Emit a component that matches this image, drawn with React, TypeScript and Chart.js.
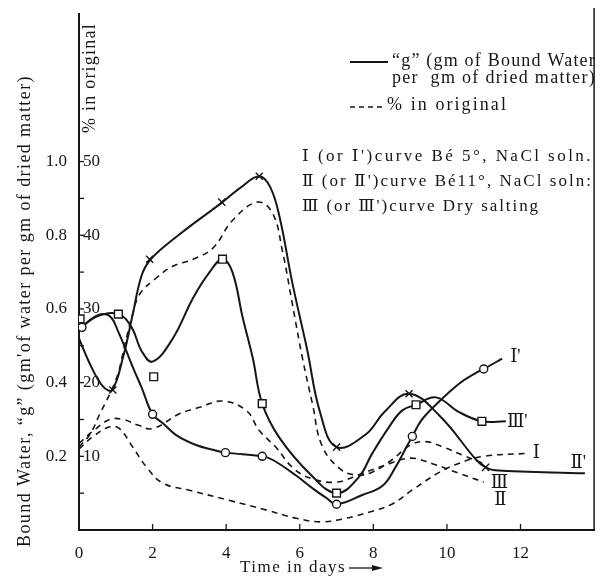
import React, { useEffect, useRef } from "react";
import { Chart, registerables } from "chart.js";

Chart.register(...registerables);

// ---- Solid curves ("g", gm bound water per gm dried matter) ----
// I' (circles)
const curveIpDays = [0.08, 0.38, 0.65, 0.88, 1.06, 1.25, 1.47, 1.7, 2.0, 2.28, 2.65, 3.2, 3.64, 3.98, 4.98, 5.27, 5.9, 6.35, 6.72, 7.0, 7.7, 8.25, 8.6, 8.9, 9.06, 9.3, 9.7, 10.33, 10.8, 11.0, 11.5];
const curveIpValues = [0.55, 0.576, 0.586, 0.576, 0.54, 0.495, 0.44, 0.387, 0.314, 0.29, 0.257, 0.23, 0.218, 0.21, 0.2, 0.19, 0.148, 0.113, 0.087, 0.07, 0.095, 0.12, 0.17, 0.225, 0.254, 0.297, 0.34, 0.397, 0.427, 0.437, 0.465];
const markIpDays = [0.08, 2.0, 3.98, 4.98, 7.0, 9.06, 11.0];
const markIpValues = [0.55, 0.314, 0.21, 0.2, 0.07, 0.254, 0.437];

// II' (crosses)
const curveIIpDays = [0, 0.3, 0.65, 0.9, 1.2, 1.45, 1.7, 1.95, 2.7, 3.9, 4.4, 4.9, 5.2, 5.45, 5.8, 6.2, 6.55, 7.0, 7.8, 8.3, 8.97, 9.8, 10.8, 11.05, 11.3, 13.75];
const curveIIpValues = [0.52, 0.45, 0.39, 0.38, 0.47, 0.58, 0.69, 0.735, 0.8, 0.89, 0.93, 0.96, 0.93, 0.85, 0.67, 0.49, 0.32, 0.225, 0.26, 0.32, 0.37, 0.31, 0.19, 0.17, 0.162, 0.154];
const markIIpDays = [0.92, 1.92, 3.88, 4.9, 7.0, 8.97, 11.05];
const markIIpValues = [0.38, 0.735, 0.89, 0.96, 0.225, 0.37, 0.17];

// III' (squares)
const curveIIIpDays = [0.05, 0.5, 1.07, 1.43, 1.7, 2.0, 2.55, 3.1, 3.55, 3.9, 4.17, 4.45, 4.72, 4.98, 5.45, 6.3, 7.0, 7.6, 7.97, 8.43, 8.78, 9.16, 9.7, 10.33, 10.95, 11.6];
const curveIIIpValues = [0.55, 0.58, 0.586, 0.55, 0.486, 0.457, 0.52, 0.63, 0.7, 0.735, 0.7, 0.576, 0.468, 0.343, 0.25, 0.15, 0.1, 0.143, 0.208, 0.28, 0.324, 0.34, 0.36, 0.32, 0.295, 0.295];
const markIIIpDays = [0.03, 1.07, 2.03, 3.9, 4.98, 7.0, 9.16, 10.95];
const markIIIpValues = [0.573, 0.586, 0.416, 0.735, 0.343, 0.1, 0.34, 0.295];

// ---- Dashed curves (% in original) ----
const curveIDays = [0, 0.4, 0.84, 1.1, 1.46, 1.84, 2.28, 3.0, 4.1, 5.1, 5.9, 6.6, 7.26, 7.9, 8.5, 9.05, 9.8, 10.3, 11.0, 12.2];
const curveIValues = [0.22, 0.255, 0.28, 0.275, 0.225, 0.17, 0.127, 0.108, 0.08, 0.054, 0.032, 0.022, 0.032, 0.049, 0.07, 0.108, 0.157, 0.18, 0.2, 0.208];

const curveIIDays = [0, 0.4, 0.84, 1.2, 1.6, 2.0, 2.74, 3.28, 3.9, 4.55, 4.9, 5.36, 5.8, 6.3, 7.0, 7.6, 8.3, 9.0, 9.6, 10.3, 11.0];
const curveIIValues = [0.235, 0.27, 0.3, 0.3, 0.285, 0.275, 0.316, 0.333, 0.35, 0.324, 0.27, 0.224, 0.17, 0.14, 0.13, 0.15, 0.175, 0.195, 0.18, 0.155, 0.13];

const curveIIIDays = [0, 0.3, 0.57, 0.84, 1.06, 1.25, 1.43, 1.65, 2.1, 2.55, 3.1, 3.64, 4.17, 4.85, 5.26, 5.53, 5.8, 6.07, 6.35, 6.6, 7.07, 7.53, 7.97, 8.5, 9.0, 9.4, 9.9, 10.5, 11.0];
const curveIIIValues = [0.225, 0.26, 0.316, 0.37, 0.424, 0.505, 0.576, 0.64, 0.684, 0.716, 0.735, 0.765, 0.84, 0.89, 0.86, 0.757, 0.613, 0.468, 0.34, 0.23, 0.168, 0.149, 0.157, 0.19, 0.23, 0.24, 0.225, 0.2, 0.18];

// ---- Axes ----
const yTickLabels = [0.2, 0.4, 0.6, 0.8, 1.0];
const pctTickLabels = [10, 20, 30, 40, 50];
const xTickLabels = [0, 2, 4, 6, 8, 10, 12];

// ---- Curve end labels (text, day, value) ----
const curveLabelTexts = ["Ⅰ'", "Ⅲ'", "Ⅰ", "Ⅱ'", "Ⅲ", "Ⅱ"];
const curveLabelDays = [11.86, 11.91, 12.43, 13.57, 11.43, 11.45];
const curveLabelValues = [0.468, 0.292, 0.208, 0.181, 0.127, 0.081];

const INK = "#161616";
const FONT = '"Liberation Serif", "DejaVu Serif", serif';

const pts = (xs: number[], ys: number[]) => xs.map((x, i) => ({ x, y: ys[i] }));

function fitText(ctx: CanvasRenderingContext2D, text: string, x: number, y: number, width: number, size: number) {
  ctx.font = `${size}px ${FONT}`;
  (ctx as any).letterSpacing = "0px";
  const w = ctx.measureText(text).width;
  const n = Array.from(text).length;
  const sp = n > 0 ? (width - w) / n : 0;
  (ctx as any).letterSpacing = `${sp}px`;
  ctx.textAlign = "left";
  ctx.textBaseline = "middle";
  ctx.fillText(text, x, y);
  (ctx as any).letterSpacing = "0px";
}

const annotations = {
  id: "annotations",
  afterDraw(chart: any) {
    const ctx: CanvasRenderingContext2D = chart.ctx;
    const xs = chart.scales.x;
    const ys = chart.scales.y;
    const area = chart.chartArea;
    ctx.save();
    ctx.fillStyle = INK;
    ctx.strokeStyle = INK;

    // right border
    ctx.lineWidth = 1.5;
    ctx.beginPath();
    ctx.moveTo(area.right, 8);
    ctx.lineTo(area.right, area.bottom);
    ctx.stroke();

    // inward tick marks
    ctx.lineWidth = 1.3;
    for (let i = 1; i <= 10; i++) {
      const py = ys.getPixelForValue(i / 10);
      ctx.beginPath();
      ctx.moveTo(area.left, py);
      ctx.lineTo(area.left + 5, py);
      ctx.stroke();
    }
    for (const v of xTickLabels) {
      if (v === 0) continue;
      const px = xs.getPixelForValue(v);
      ctx.beginPath();
      ctx.moveTo(px, area.bottom);
      ctx.lineTo(px, area.bottom - 6);
      ctx.stroke();
    }

    // % labels inside the axis
    ctx.font = `17px ${FONT}`;
    ctx.textAlign = "left";
    ctx.textBaseline = "middle";
    for (const p of pctTickLabels) {
      ctx.fillText(String(p), area.left + 4, ys.getPixelForValue(p / 50));
    }

    // y-axis title
    ctx.save();
    ctx.translate(25, 311);
    ctx.rotate(-Math.PI / 2);
    fitText(ctx, "Bound Water, “g” (gm'of water per gm of dried matter)", -236, 0, 472, 18);
    ctx.restore();

    // % in original (vertical)
    ctx.save();
    ctx.translate(90, 78);
    ctx.rotate(-Math.PI / 2);
    fitText(ctx, "% in original", -55, 0, 110, 18);
    ctx.restore();

    // x title with arrow
    fitText(ctx, "Time in days", 240, 568, 106, 17);
    ctx.lineWidth = 1.3;
    ctx.beginPath();
    ctx.moveTo(349, 568);
    ctx.lineTo(378, 568);
    ctx.stroke();
    ctx.beginPath();
    ctx.moveTo(383, 568);
    ctx.lineTo(372, 565);
    ctx.lineTo(372, 571);
    ctx.closePath();
    ctx.fill();

    // legend
    ctx.lineWidth = 2;
    ctx.setLineDash([]);
    ctx.beginPath();
    ctx.moveTo(350, 62);
    ctx.lineTo(388, 62);
    ctx.stroke();
    fitText(ctx, "“g” (gm of Bound Water", 392, 61, 204, 18);
    fitText(ctx, "per  gm of dried matter)", 392, 78, 204, 18);
    ctx.lineWidth = 1.6;
    ctx.setLineDash([5, 4]);
    ctx.beginPath();
    ctx.moveTo(350, 107);
    ctx.lineTo(385, 107);
    ctx.stroke();
    ctx.setLineDash([]);
    fitText(ctx, "% in original", 387, 105, 121, 18);
    fitText(ctx, "Ⅰ (or Ⅰ')curve Bé 5°, NaCl soln.", 302, 157, 291, 17);
    fitText(ctx, "Ⅱ (or Ⅱ')curve Bé11°, NaCl soln:", 302, 182, 291, 17);
    fitText(ctx, "Ⅲ (or Ⅲ')curve Dry salting", 302, 207, 238, 17);

    // curve end labels
    ctx.font = `18px ${FONT}`;
    ctx.textAlign = "center";
    ctx.textBaseline = "middle";
    curveLabelTexts.forEach((t, i) => {
      ctx.fillText(t, xs.getPixelForValue(curveLabelDays[i]), ys.getPixelForValue(curveLabelValues[i]));
    });

    ctx.restore();
  },
};

function solid(data: { x: number; y: number }[]) {
  return {
    data,
    showLine: true,
    borderColor: INK,
    borderWidth: 2,
    pointRadius: 0,
    tension: 0.4,
    order: 2,
  };
}
function dashed(data: { x: number; y: number }[]) {
  return {
    data,
    showLine: true,
    borderColor: INK,
    borderWidth: 1.6,
    borderDash: [6, 5],
    pointRadius: 0,
    tension: 0.4,
    order: 3,
  };
}
function markers(data: { x: number; y: number }[], style: string, radius: number) {
  return {
    data,
    showLine: false,
    pointStyle: style,
    pointRadius: radius,
    pointBorderColor: INK,
    pointBackgroundColor: "#ffffff",
    pointBorderWidth: 1.4,
    order: 0,
  };
}

export default function App() {
  const ref = useRef<HTMLCanvasElement>(null);
  useEffect(() => {
    document.body.style.margin = "0";
    const chart = new Chart(ref.current as HTMLCanvasElement, {
      type: "scatter",
      data: {
        datasets: [
          solid(pts(curveIpDays, curveIpValues)),
          solid(pts(curveIIpDays, curveIIpValues)),
          solid(pts(curveIIIpDays, curveIIIpValues)),
          dashed(pts(curveIDays, curveIValues)),
          dashed(pts(curveIIDays, curveIIValues)),
          dashed(pts(curveIIIDays, curveIIIValues)),
          markers(pts(markIpDays, markIpValues), "circle", 4),
          markers(pts(markIIIpDays, markIIIpValues), "rect", 5.5),
          markers(pts(markIIpDays, markIIpValues), "crossRot", 5),
        ] as any,
      },
      options: {
        animation: false,
        responsive: false,
        devicePixelRatio: 1,
        layout: { padding: { top: 12, right: 5, left: 0, bottom: 0 } },
        plugins: { legend: { display: false }, tooltip: { enabled: false } },
        scales: {
          x: {
            type: "linear",
            min: 0,
            max: 14,
            grid: { display: false },
            border: { display: true, color: INK, width: 2 },
            afterFit: (s: any) => { s.height = 53; },
            ticks: {
              stepSize: 2,
              padding: 5,
              color: INK,
              font: { family: FONT, size: 17 },
              callback: (v: any) => (xTickLabels.includes(Number(v)) ? String(v) : ""),
            },
          },
          y: {
            type: "linear",
            min: 0,
            max: 1.4,
            grid: { display: false },
            border: { display: true, color: INK, width: 2 },
            afterFit: (s: any) => { s.width = 79; },
            ticks: {
              stepSize: 0.1,
              padding: 4,
              color: INK,
              font: { family: FONT, size: 17 },
              callback: (v: any) => {
                const n = Math.round(Number(v) * 10) / 10;
                return yTickLabels.includes(n) ? n.toFixed(1) : "";
              },
            },
          },
        },
      },
      plugins: [annotations],
    });
    return () => chart.destroy();
  }, []);
  return (
    <div style={{ width: 601, height: 583, background: "#fff" }}>
      <canvas ref={ref} width={601} height={583} style={{ width: 601, height: 583, display: "block" }} />
    </div>
  );
}
